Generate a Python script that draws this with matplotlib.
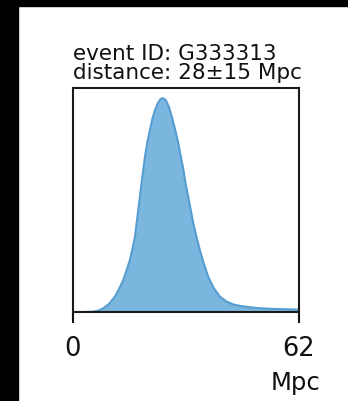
import matplotlib
matplotlib.use("Agg")
import matplotlib.pyplot as plt
from matplotlib.patches import Rectangle

# Distance posterior (Mpc, relative density)
distance_mpc = [0, 3, 5.6, 7.0, 8.3, 10.0, 11.5, 12.7, 13.8, 14.7, 15.6, 16.3,
                17.0, 17.9, 18.8, 19.75, 20.4, 21.1, 21.8, 22.5, 23.3, 24.0,
                24.5, 25.0, 25.5, 26.3, 27.1, 28.0, 28.9, 29.6, 30.3, 30.9,
                31.6, 32.3, 33.0, 33.9, 34.8, 35.9, 37.1, 38.6, 40.3, 42.0,
                44.0, 46.0, 48.6, 51.0, 54.0, 58.0, 62.0]
density = [0.0, 0.0, 0.002, 0.007, 0.017, 0.040, 0.072, 0.110, 0.150, 0.195,
           0.243, 0.295, 0.352, 0.477, 0.602, 0.727, 0.795, 0.852, 0.905,
           0.945, 0.978, 0.996, 1.0, 0.998, 0.990, 0.960, 0.914, 0.855, 0.789,
           0.725, 0.664, 0.600, 0.540, 0.478, 0.415, 0.350, 0.290, 0.225,
           0.165, 0.112, 0.072, 0.050, 0.035, 0.028, 0.022, 0.018, 0.015,
           0.013, 0.011]
tick_values = [0, 62]
tick_labels = ["0", "62"]
title_text = "event ID: G333313\ndistance: 28\u00b115 Mpc"
x_label = "Mpc"

fig = plt.figure(figsize=(3.48, 4.01), dpi=100)
fig.patch.set_facecolor("white")
ax = fig.add_axes([73/348, 89/401, 226/348, 224/401])

ax.fill_between(distance_mpc, density, 0, color="#7ab6de", linewidth=0)
ax.plot(distance_mpc, density, color="#559dd0", linewidth=1.5,
        solid_joinstyle="round")

ax.set_xlim(0, 62)
ax.set_ylim(0, 1.048)
ax.set_yticks([])
ax.set_xticks(tick_values)
ax.set_xticklabels(tick_labels)
ax.tick_params(axis="x", direction="out", length=8, width=1.5, pad=9,
               labelsize=18.5, colors="#111111")
for s in ax.spines.values():
    s.set_linewidth(1.5)
    s.set_color("#1a1a1a")

ax.set_xlabel(x_label, fontsize=17.5)
ax.xaxis.set_label_coords(0.985, -0.317)
ax.xaxis.label.set_va("center")
ax.xaxis.label.set_color("#111111")

ax.text(0.0, 1 + 9/224, title_text, transform=ax.transAxes, ha="left",
        va="baseline", fontsize=15.5, color="#111111", linespacing=0.95)

# black border bands of the original screenshot
fig.add_artist(Rectangle((0, 1 - 6/401), 1, 6/401, transform=fig.transFigure,
                         color="black", zorder=10))
fig.add_artist(Rectangle((0, 0), 18/348, 1, transform=fig.transFigure,
                         color="black", zorder=10))

fig.savefig("out.png", dpi=100)
